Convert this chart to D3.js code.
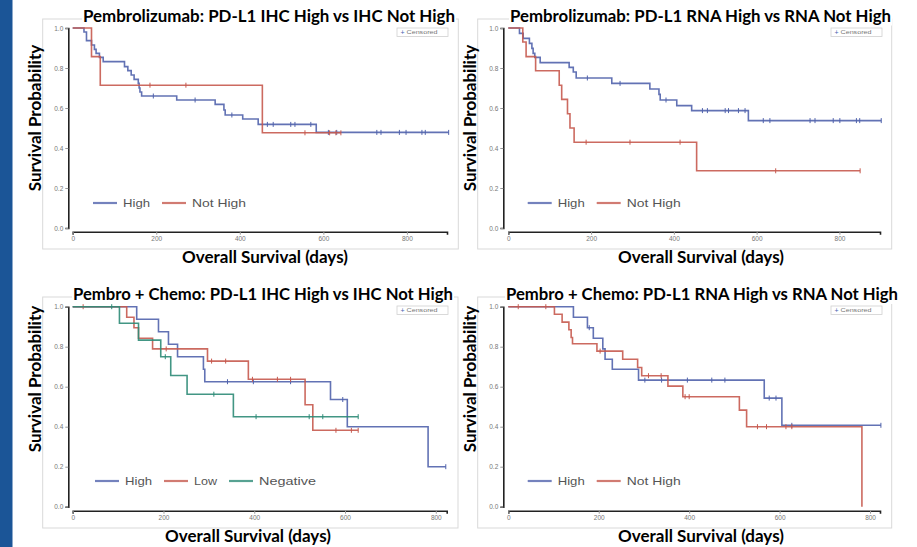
<!DOCTYPE html>
<html>
<head>
<meta charset="utf-8">
<style>
  body { margin: 0; background: #fff; }
  svg { display: block; }
</style>
</head>
<body>
<div id="chart"></div>
<script src="https://cdn.jsdelivr.net/npm/d3@7"></script>
<script>
// ---- data ----
var titles = [
  "Pembrolizumab: PD-L1 IHC High vs IHC Not High",
  "Pembrolizumab: PD-L1 RNA High vs RNA Not High",
  "Pembro + Chemo: PD-L1 IHC High vs IHC Not High",
  "Pembro + Chemo: PD-L1 RNA High vs RNA Not High"
];
var xAxisLabel = "Overall Survival (days)";
var yAxisLabel = "Survival Probability";
var xTicks = [0, 200, 400, 600, 800];
var yTicks = [0, 0.2, 0.4, 0.6, 0.8, 1.0];
var xAxisMax = [896, 898, 824, 822];

// panel 1
var p1HighT = [0,27,33,45,52,56,64,73,124,132,140,147,157,159,161,165,249,341,362,365,407,444,583,900];
var p1HighS = [1,.98,.937,.915,.893,.873,.853,.832,.807,.787,.765,.743,.723,.70,.68,.66,.64,.618,.59,.565,.545,.518,.478,.478];
var p1HighC = [193,293,381,466,480,522,532,570,612,632,728,738,782,798,836,844,900];
var p1NotT = [0,45,66,454,642];
var p1NotS = [1,.857,.714,.476,.476];
var p1NotC = [185,271,556,615,630,642];

// panel 2
var p2HighT = [0,27,36,51,57,60,64,77,147,157,164,250,342,364,367,407,443,580,901];
var p2HighS = [1,.973,.948,.923,.898,.873,.853,.827,.803,.78,.75,.723,.695,.668,.64,.612,.587,.537,.537];
var p2HighC = [191,270,381,469,481,524,532,556,572,616,632,729,741,785,801,841,849,901];
var p2NotT = [0,35,43,66,123,129,143,149,159,455,850];
var p2NotS = [1,.93,.857,.786,.714,.643,.571,.50,.429,.286,.286];
var p2NotC = [188,294,415,646,850];

// panel 3
var p3HighT = [0,141,189,211,231,288,291,568,605,783,822];
var p3HighS = [1,.9375,.875,.8125,.75,.6875,.625,.536,.40,.20,.20];
var p3HighC = [341,398,480,595,822];
var p3LowT = [0,119,135,145,176,297,387,512,529,629];
var p3LowS = [1,.947,.895,.842,.789,.728,.637,.51,.382,.382];
var p3LowC = [23,206,306,337,396,451,480,580,614,629];
var p3NegT = [0,103,145,194,216,252,354,629];
var p3NegS = [1,.917,.833,.75,.656,.5625,.45,.45];
var p3NegC = [86,204,311,404,521,551,629];

// panel 4
var p4HighT = [0,144,175,188,209,214,230,288,566,605,824];
var p4HighS = [1,.947,.895,.842,.789,.737,.687,.633,.543,.407,.407];
var p4HighC = [179,302,339,396,450,479,577,592,627,824];
var p4NotT = [0,102,119,134,139,142,196,253,286,295,353,386,511,527,782];
var p4NotS = [1,.962,.923,.885,.846,.815,.778,.737,.696,.655,.603,.55,.483,.40,0];
var p4NotC = [22,83,203,310,338,391,400,551,571,614,627];

var colors = { "High": "#5163ac", "Not High": "#c65a4f", "Low": "#c65a4f", "Negative": "#2d8b77" };

var seriesByPanel = [
  [{name:"High", t:p1HighT, s:p1HighS, c:p1HighC}, {name:"Not High", t:p1NotT, s:p1NotS, c:p1NotC}],
  [{name:"High", t:p2HighT, s:p2HighS, c:p2HighC}, {name:"Not High", t:p2NotT, s:p2NotS, c:p2NotC}],
  [{name:"High", t:p3HighT, s:p3HighS, c:p3HighC}, {name:"Low", t:p3LowT, s:p3LowS, c:p3LowC},
   {name:"Negative", t:p3NegT, s:p3NegS, c:p3NegC}],
  [{name:"High", t:p4HighT, s:p4HighS, c:p4HighC}, {name:"Not High", t:p4NotT, s:p4NotS, c:p4NotC}]
];

// ---- layout ----
var layout = [
  {frame:[42.7,19,458.3,249], x0:72.7, x1:447, yTop:28, yBot:228, yAxisX:68.3, xAxisY:231.7,
   titleX:83, titleW:372, titleY:21.5, xlabX:265, xlabY:263, ylabX:41, ylabY:118, legX:93, legY:203, boxX:397, boxY:28},
  {frame:[477.7,19,891.7,249], x0:508.3, x1:880, yTop:28, yBot:228, yAxisX:503.3, xAxisY:231.7,
   titleX:510, titleW:381, titleY:21.5, xlabX:701, xlabY:263, ylabX:476, ylabY:118, legX:527.7, legY:203, boxX:831, boxY:28},
  {frame:[42.7,297,458,528], x0:72.7, x1:446.7, yTop:306.7, yBot:506.7, yAxisX:68.3, xAxisY:510.7,
   titleX:73, titleW:380, titleY:300, xlabX:248, xlabY:541.5, ylabX:41, ylabY:379, legX:95, legY:481, boxX:397, boxY:306},
  {frame:[477.7,297,891.7,528], x0:508.3, x1:880, yTop:306.7, yBot:506.7, yAxisX:503.3, xAxisY:510.7,
   titleX:506, titleW:392, titleY:300, xlabX:701, xlabY:541.5, ylabX:476, ylabY:379, legX:527.7, legY:481, boxX:831, boxY:306}
];
var legendTextW = { "High": 27, "Not High": 54, "Low": 23, "Negative": 57 };

var svg = d3.select("#chart").append("svg")
    .attr("width", 917)
    .attr("height", 547);

// left blue band
svg.append("rect").attr("x", 0).attr("y", 0).attr("width", 12.5).attr("height", 547).attr("fill", "#1b5597");

function survAt(d, t) {
  var v = d.s[0];
  for (var i = 0; i < d.t.length; i++) { if (d.t[i] <= t) v = d.s[i]; }
  return v;
}

layout.forEach(function(L, p) {
  var g = svg.append("g");
  var f = L.frame;
  g.append("rect")
    .attr("x", f[0]).attr("y", f[1])
    .attr("width", f[2] - f[0]).attr("height", f[3] - f[1])
    .attr("fill", "none").attr("stroke", "#d9d9d9").attr("stroke-width", 1);

  var x = d3.scaleLinear().domain([0, xAxisMax[p]]).range([L.x0, L.x1]);
  var y = d3.scaleLinear().domain([0, 1]).range([L.yBot, L.yTop]);

  // axes
  var xa = g.append("g")
    .attr("transform", "translate(0," + L.xAxisY + ")")
    .call(d3.axisBottom(x).tickValues(xTicks).tickSize(3).tickSizeOuter(3).tickPadding(2));
  var ya = g.append("g")
    .attr("transform", "translate(" + L.yAxisX + ",0)")
    .call(d3.axisLeft(y).tickValues(yTicks).tickFormat(d3.format(".1f")).tickSize(3).tickSizeOuter(3).tickPadding(2));
  [xa, ya].forEach(function(a) {
    a.select(".domain").attr("stroke", "#222").attr("stroke-width", 1.6);
    a.selectAll(".tick line").attr("stroke", "#999");
    a.selectAll(".tick text").attr("fill", "#777").style("font", "6.5px 'Liberation Sans', Arial, sans-serif");
  });

  // curves
  var line = d3.line()
    .x(function(d) { return x(d[0]); })
    .y(function(d) { return y(d[1]); })
    .curve(d3.curveStepAfter);

  seriesByPanel[p].forEach(function(d) {
    var pts = d.t.map(function(t, i) { return [t, d.s[i]]; });
    g.append("path")
      .attr("d", line(pts))
      .attr("fill", "none")
      .attr("stroke", colors[d.name])
      .attr("stroke-width", 1.6)
      .attr("stroke-opacity", 0.9);
    g.selectAll(null)
      .data(d.c)
      .enter()
      .append("line")
        .attr("x1", function(t) { return x(t); })
        .attr("x2", function(t) { return x(t); })
        .attr("y1", function(t) { return y(survAt(d, t)) - 2.5; })
        .attr("y2", function(t) { return y(survAt(d, t)) + 2.5; })
        .attr("stroke", colors[d.name])
        .attr("stroke-width", 1);
  });

  // legend
  var lx = L.legX;
  seriesByPanel[p].forEach(function(d) {
    g.append("line")
      .attr("x1", lx).attr("x2", lx + 24)
      .attr("y1", L.legY).attr("y2", L.legY)
      .attr("stroke", colors[d.name]).attr("stroke-width", 2.2).attr("stroke-opacity", 0.8);
    g.append("text")
      .attr("x", lx + 30).attr("y", L.legY + 4)
      .attr("textLength", legendTextW[d.name]).attr("lengthAdjust", "spacingAndGlyphs")
      .attr("fill", "#555")
      .style("font", "11px 'Liberation Sans', Arial, sans-serif")
      .text(d.name);
    lx = lx + 30 + legendTextW[d.name] + 12;
  });

  // censored box
  g.append("rect")
    .attr("x", L.boxX).attr("y", L.boxY).attr("width", 51).attr("height", 8.5)
    .attr("fill", "#fff").attr("stroke", "#d0d0d0").attr("stroke-width", 0.8);
  g.append("text")
    .attr("x", L.boxX + 3.5).attr("y", L.boxY + 6.5)
    .attr("fill", "#4a5fb0")
    .style("font", "7px 'Liberation Sans', Arial, sans-serif")
    .text("+");
  g.append("text")
    .attr("x", L.boxX + 9.5).attr("y", L.boxY + 6.3)
    .attr("textLength", 31).attr("lengthAdjust", "spacingAndGlyphs")
    .attr("fill", "#777")
    .style("font", "6px 'Liberation Sans', Arial, sans-serif")
    .text("Censored");

  // title on a white backdrop hiding the frame lines beneath it
  g.append("rect")
    .attr("x", L.titleX - 1).attr("y", L.titleY - 14)
    .attr("width", L.titleW + 2).attr("height", 18)
    .attr("fill", "#fff");
  g.append("text")
    .attr("x", L.titleX + L.titleW).attr("y", L.titleY)
    .attr("text-anchor", "end")
    .attr("textLength", L.titleW).attr("lengthAdjust", "spacingAndGlyphs")
    .style("font", "bold 17.5px Lato, 'Open Sans', sans-serif")
    .attr("fill", "#000")
    .text(titles[p]);

  // axis titles
  g.append("text")
    .attr("x", L.xlabX).attr("y", L.xlabY)
    .attr("text-anchor", "middle")
    .style("font", "bold 17px Lato, 'Open Sans', sans-serif")
    .attr("fill", "#000")
    .text(xAxisLabel);
  g.append("text")
    .attr("transform", "translate(" + L.ylabX + "," + L.ylabY + ") rotate(-90)")
    .attr("text-anchor", "middle")
    .style("font", "bold 17px Lato, 'Open Sans', sans-serif")
    .attr("fill", "#000")
    .text(yAxisLabel);
});
</script>
</body>
</html>
